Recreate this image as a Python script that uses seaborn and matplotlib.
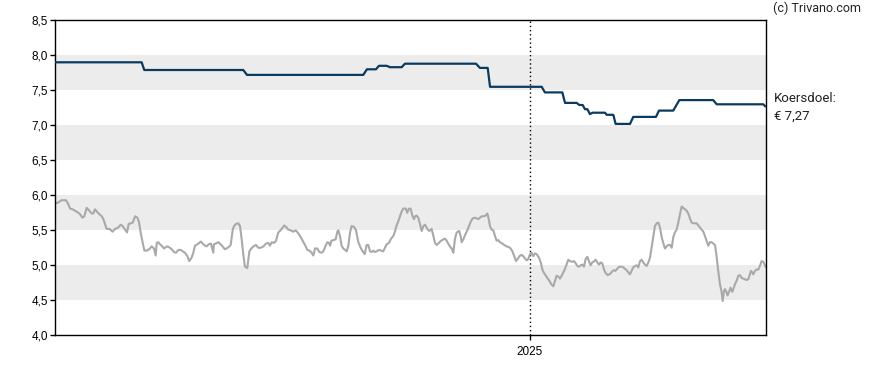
import numpy as np
import pandas as pd
import seaborn as sns
import matplotlib.pyplot as plt
import matplotlib.dates as mdates
from matplotlib.ticker import FuncFormatter
from matplotlib.transforms import blended_transform_factory

# data: days since 2024-01-01
start_date = pd.Timestamp("2024-01-01")
end_day = 548

price_day = [
    0.0, 1.8, 5.1, 8.5, 10.3, 11.6, 13.6, 15.4, 17.2, 19.3, 21.1, 22.6, 24.4, 26.5, 28.3, 29.5,
    30.8, 32.6, 34.2, 36.0, 37.3, 38.5, 39.8, 41.9, 43.2, 44.4, 46.2, 48.8, 50.6, 52.2, 54.0, 55.5,
    56.8, 58.3, 59.9, 61.7, 63.5, 64.7, 66.0, 67.6, 68.9, 70.7, 72.7, 74.5, 76.3, 77.6, 78.4, 79.6,
    80.9, 82.2, 84.0, 85.5, 86.6, 88.6, 90.4, 91.7, 93.3, 95.1, 96.9, 98.4, 100.2, 102.0, 103.5,
    105.3, 106.6, 107.9, 109.7, 111.2, 112.5, 113.8, 115.6, 116.9, 118.4, 120.2, 122.0, 122.5,
    123.8, 125.9, 127.7, 129.2, 130.8, 132.3, 134.4, 135.4, 137.0, 138.0,
    139.5, 141.3, 142.6, 143.9, 145.1, 146.4, 148.2, 149.8, 151.3, 152.9, 154.9, 156.7, 158.5,
    160.6, 162.6, 164.4, 165.7, 167.0, 168.8, 170.3, 172.1, 173.9, 175.5, 176.7, 178.5, 179.8,
    181.6, 183.7, 185.5, 187.0, 188.8, 190.9, 192.7, 194.5, 196.0, 197.8, 199.1, 200.4, 202.2,
    203.7, 205.5, 206.8, 208.6, 209.9, 211.2, 212.0, 213.0, 214.5, 216.3, 217.6, 218.4, 219.6,
    220.9, 222.2, 223.5, 224.8, 226.1, 227.4, 228.6, 230.4, 232.0, 233.8, 235.6, 237.1, 238.7,
    240.2, 241.5, 242.8, 244.1, 245.3, 246.6, 247.9, 249.7, 251.2, 253.0, 254.3, 255.6, 257.4,
    259.0, 260.8, 262.0, 263.3, 264.6, 265.9, 267.2, 268.5, 270.3, 271.5, 272.8, 274.1, 275.4,
    276.7,
    277.5, 278.7, 280.0, 281.3, 282.6, 283.9, 285.2, 287.0, 288.5, 290.3, 291.6, 292.9, 294.2,
    295.9, 297.5, 299.3, 300.6, 301.9, 303.1, 304.4, 306.0, 307.0, 308.3, 309.6, 311.6, 312.6,
    313.4, 314.7, 316.0, 317.8, 319.3, 320.6, 321.9, 323.7, 325.0, 326.3, 327.6, 328.8, 330.1,
    331.9, 333.2, 334.2, 335.3, 336.5, 337.8, 339.1, 340.4, 341.7, 343.0, 344.8, 346.3, 348.1,
    349.9, 351.2, 352.5, 354.0, 355.3, 356.6, 357.9, 359.7, 360.9, 362.2, 363.5, 364.8, 366.1,
    367.4, 368.7, 369.9, 371.2, 373.0, 374.6, 375.6, 376.9, 378.4, 379.7, 381.0, 382.5, 384.1,
    385.4, 386.6, 387.9, 389.2, 390.5, 391.8, 393.1, 394.3, 395.6, 396.9, 398.5, 400.0, 401.3,
    402.6, 403.9, 405.1, 406.4, 407.7, 409.0, 410.3, 411.5, 412.8, 414.1, 415.7,
    416.7, 418.0, 419.3, 420.5, 421.8, 423.1, 424.4, 425.9, 427.2, 428.5, 429.8, 430.8, 431.8,
    432.9, 434.2, 435.4, 436.7, 438.0, 439.3, 440.6, 441.9, 443.1, 444.4, 445.7, 447.0, 448.3,
    449.6, 450.9, 452.1, 453.4, 454.7, 456.0, 457.3, 458.6, 459.8, 461.1, 462.4, 463.7, 465.0,
    466.3, 467.6, 468.8, 470.1, 471.4, 472.7, 474.0, 475.3, 476.5, 477.8, 479.1, 480.4, 481.7,
    483.0, 484.3, 485.5, 486.8, 488.1, 489.4, 490.7, 492.0, 493.2, 494.5, 495.8, 497.1, 498.4,
    499.7, 500.9, 502.2, 503.5, 504.8, 506.1, 507.4, 508.7, 509.9, 511.2, 512.5, 513.8, 514.6,
    515.6, 516.4, 517.7, 518.4, 519.7, 520.7, 522.0, 522.8, 524.1, 525.4, 526.6, 527.9, 529.2,
    530.5, 531.8, 533.1, 534.3, 535.6, 536.4, 537.4, 538.2, 539.5, 540.8, 542.1, 543.3, 544.6,
    545.9, 547.2, 548.0,
]

price_value = [
    5.89, 5.89, 5.93, 5.93, 5.87, 5.81, 5.80, 5.78, 5.76, 5.73, 5.68, 5.70, 5.82, 5.78, 5.74, 5.74,
    5.80, 5.76, 5.73, 5.70, 5.66, 5.59, 5.52, 5.52, 5.50, 5.48, 5.52, 5.54, 5.58, 5.56, 5.51, 5.47,
    5.59, 5.60, 5.61, 5.70, 5.68, 5.62, 5.47, 5.32, 5.21, 5.21, 5.23, 5.27, 5.24, 5.14, 5.32, 5.33,
    5.30, 5.28, 5.24, 5.26, 5.27, 5.25, 5.22, 5.19, 5.18, 5.22, 5.22, 5.20, 5.18, 5.13, 5.06,
    5.11, 5.18, 5.28, 5.30, 5.32, 5.34, 5.31, 5.28, 5.27, 5.30, 5.31, 5.18, 5.30,
    5.31, 5.33, 5.30, 5.27, 5.23, 5.24, 5.27, 5.29, 5.51, 5.56,
    5.59, 5.60, 5.56, 5.37, 5.16, 4.98, 4.96, 5.20, 5.24, 5.27, 5.29, 5.25, 5.25,
    5.27, 5.31, 5.32, 5.28, 5.33, 5.32, 5.35, 5.47, 5.50, 5.54, 5.57, 5.54, 5.51,
    5.50, 5.48, 5.50, 5.47, 5.42, 5.35, 5.29, 5.22, 5.21, 5.18, 5.14, 5.24, 5.24,
    5.19, 5.18, 5.20, 5.28, 5.33, 5.32, 5.28, 5.35, 5.36, 5.37, 5.48, 5.50, 5.42,
    5.28, 5.24, 5.22, 5.20, 5.28, 5.47, 5.56, 5.55, 5.50, 5.33, 5.25, 5.20, 5.16,
    5.29, 5.29, 5.20, 5.19, 5.21, 5.19, 5.20, 5.22, 5.21, 5.20, 5.25, 5.30, 5.32,
    5.38, 5.42, 5.48, 5.57, 5.63, 5.70, 5.77, 5.81, 5.81, 5.75, 5.81, 5.81, 5.71,
    5.66,
    5.70, 5.71, 5.68, 5.59, 5.49, 5.56, 5.58, 5.52, 5.49, 5.52, 5.42, 5.32, 5.29,
    5.32, 5.35, 5.37, 5.38, 5.35, 5.31, 5.27, 5.23, 5.18, 5.38, 5.47, 5.49, 5.42,
    5.33, 5.37, 5.43, 5.50, 5.57, 5.63, 5.67, 5.68, 5.67, 5.66, 5.68, 5.70, 5.70,
    5.71, 5.74, 5.67, 5.56, 5.51, 5.50, 5.42, 5.35, 5.36, 5.33, 5.31, 5.29, 5.27,
    5.26, 5.24, 5.20, 5.13, 5.06, 5.09, 5.13, 5.15, 5.13, 5.10, 5.07, 5.09, 5.16,
    5.18, 5.13, 5.17, 5.16, 5.11, 5.03, 4.94, 4.89, 4.85, 4.81, 4.78, 4.73, 4.70,
    4.78, 4.85, 4.84, 4.81, 4.85, 4.90, 4.95, 5.01, 5.08, 5.06, 5.05, 5.06, 5.03,
    4.99, 4.98, 5.00, 5.01, 4.98, 5.09, 5.12, 5.06, 5.00, 5.04, 5.06,
    5.08, 5.04, 5.01, 5.04, 5.03, 4.94, 4.89, 4.86, 4.87, 4.89, 4.92, 4.93, 4.92,
    4.94, 4.97, 4.98, 4.98, 4.97, 4.95, 4.93, 4.90, 4.87, 4.92, 4.97, 4.99, 5.00,
    4.97, 5.06, 5.08, 5.04, 5.01, 4.99, 5.04, 5.11, 5.25, 5.40, 5.56, 5.60, 5.61,
    5.54, 5.40, 5.32, 5.24, 5.27, 5.29, 5.29, 5.25, 5.40, 5.47, 5.51, 5.61, 5.73,
    5.84, 5.82, 5.80, 5.78, 5.74, 5.67, 5.61, 5.60, 5.60, 5.60, 5.57, 5.54, 5.51,
    5.48, 5.42, 5.35, 5.28, 5.33, 5.33, 5.31, 5.29, 5.13, 4.92, 4.73, 4.62, 4.49,
    4.63, 4.66, 4.61, 4.57, 4.63, 4.68, 4.62, 4.66, 4.73, 4.78, 4.85, 4.86, 4.82,
    4.81, 4.80, 4.79, 4.80, 4.87, 4.92, 4.90, 4.87, 4.92, 4.94, 4.94, 4.99, 5.06,
    5.05, 5.00, 4.97,
]

target_day = [
    0.0, 66.8, 68.8, 145.1, 148.0, 237.6, 240.4, 247.4, 249.7, 255.6, 258.2, 267.2, 269.7,
    324.5, 327.5, 333.5, 335.3, 375.1, 377.6, 391.0, 393.1, 402.1, 404.1, 406.7, 408.5, 410.3,
    412.3, 414.4, 423.9, 425.2, 430.3, 432.1, 443.2, 445.7, 463.2, 465.5, 476.5, 481.2, 507.3,
    510.0, 545.9, 547.5,
]
target_value = [
    7.90, 7.90, 7.79, 7.79, 7.72, 7.72, 7.80, 7.80, 7.85, 7.85, 7.83, 7.83, 7.88,
    7.88, 7.82, 7.82, 7.55, 7.55, 7.47, 7.47, 7.32, 7.32, 7.29, 7.29, 7.23, 7.23,
    7.16, 7.18, 7.18, 7.15, 7.15, 7.02, 7.02, 7.12, 7.12, 7.21, 7.21, 7.36, 7.36,
    7.30, 7.30, 7.27,
]

y_ticks = [4.0, 4.5, 5.0, 5.5, 6.0, 6.5, 7.0, 7.5, 8.0, 8.5]
bands = [(4.5, 5.0), (5.5, 6.0), (6.5, 7.0), (7.5, 8.0)]
year_mark = pd.Timestamp("2025-01-01")
target_label = "Koersdoel:\n€ 7,27"

price_df = pd.DataFrame({
    "date": start_date + pd.to_timedelta(price_day, unit="D"),
    "price": price_value,
})
target_df = pd.DataFrame({
    "date": start_date + pd.to_timedelta(target_day, unit="D"),
    "target": target_value,
})

sns.set_style("ticks")
plt.rcParams["font.family"] = ["Liberation Sans", "DejaVu Sans"]

fig = plt.figure(figsize=(8.88, 3.70), dpi=100)
ax = fig.add_axes([55 / 888, 1 - 335.3 / 370, 711 / 888, 315 / 370])

# light grey bands every other half unit
for lo, hi in bands:
    ax.axhspan(lo, hi, color="#ececec", lw=0, zorder=0)

ax.axvline(year_mark, color="black", lw=1, ls=(0, (1, 2)), zorder=1)

sns.lineplot(data=price_df, x="date", y="price", ax=ax, color="#a9a9a9", lw=1.5, zorder=2)
sns.lineplot(data=target_df, x="date", y="target", ax=ax, color="#0b3a5e", lw=1.6, zorder=3)

ax.set_xlim(start_date, start_date + pd.Timedelta(days=end_day))
ax.set_ylim(4.0, 8.5)
ax.set_yticks(y_ticks)
ax.yaxis.set_major_formatter(FuncFormatter(lambda v, p: f"{v:.1f}".replace(".", ",")))
ax.set_xticks([year_mark])
ax.xaxis.set_major_formatter(mdates.DateFormatter("%Y"))
ax.set_xlabel("")
ax.set_ylabel("")
ax.tick_params(axis="y", labelsize=8.5, colors="black", length=3.6, width=1, pad=1.5)
ax.tick_params(axis="x", labelsize=8.5, colors="black", length=3.6, width=1, pad=4)

for side in ["left", "right", "top", "bottom"]:
    ax.spines[side].set_visible(True)
    ax.spines[side].set_color("black")
    ax.spines[side].set_linewidth(1)

trans = blended_transform_factory(ax.transAxes, ax.transData)
ax.text(1.011, 7.26, target_label, transform=trans, ha="left", va="center",
        fontsize=9.5, family=["Roboto", "DejaVu Sans"], color="#222222", linespacing=1.45)
fig.text(773 / 888, 1 - 8 / 370, "(c) Trivano.com", ha="left", va="center",
         fontsize=9, family=["Roboto", "DejaVu Sans"], color="#222222")

fig.savefig("out.png", dpi=100)
